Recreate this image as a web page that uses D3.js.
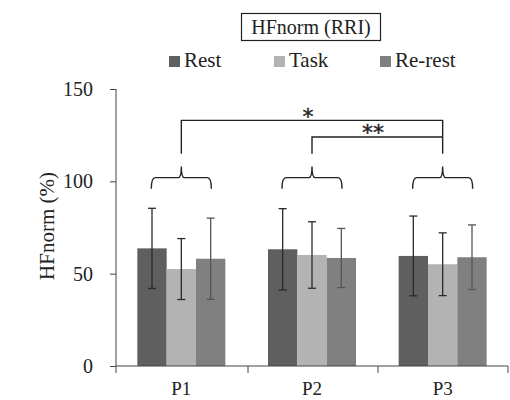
<!DOCTYPE html>
<html>
<head>
<meta charset="utf-8">
<script src="https://cdn.jsdelivr.net/npm/d3@7"></script>
<style>
body { margin: 0; background: #fff; }
svg text { font-family: "Liberation Serif", "Times New Roman", serif; fill: #222; }
svg text.star { font-family: "DejaVu Sans", sans-serif; stroke: #222; stroke-width: 0.4; }
</style>
</head>
<body>
<div class="chart"></div>
<script>
// data
var periods = ["P1", "P2", "P3"];
var seriesNames = ["Rest", "Task", "Re-rest"];
var restMean = [63.7, 63.2, 59.6];
var restSd = [21.7, 22.0, 21.6];
var taskMean = [52.5, 60.1, 55.1];
var taskSd = [16.5, 18.0, 17.0];
var rerestMean = [58.1, 58.5, 58.9];
var rerestSd = [22.0, 16.0, 17.5];
var yTicks = [0, 50, 100, 150];

var w = 510, h = 400;
var colors = ["#5f5f5f", "#b3b3b3", "#808080"];
var errColors = ["#2a2a2a", "#2a2a2a", "#555"];

var svg = d3.select(".chart").append("svg")
    .attr("width", w).attr("height", h);

var x = d3.scaleBand().domain(periods).range([116, 508]).paddingInner(0).paddingOuter(0);
var xs = d3.scaleBand().domain(seriesNames).range([0, 88]);
var y = d3.scaleLinear().domain([0, 150]).range([366, 89]);

var table = [];
periods.forEach(function(p, i){
    table.push({p: p, s: "Rest", m: restMean[i], sd: restSd[i], k: 0});
    table.push({p: p, s: "Task", m: taskMean[i], sd: taskSd[i], k: 1});
    table.push({p: p, s: "Re-rest", m: rerestMean[i], sd: rerestSd[i], k: 2});
});
var off = (x.bandwidth() - 88) / 2;

// bars
svg.selectAll("rect.bar").data(table).enter().append("rect")
    .attr("class", "bar")
    .attr("x", d => x(d.p) + off + xs(d.s))
    .attr("width", xs.bandwidth())
    .attr("y", d => y(d.m))
    .attr("height", d => y(0) - y(d.m))
    .attr("fill", d => colors[d.k]);

// error bars
var eb = svg.selectAll("g.err").data(table).enter().append("g")
    .attr("class", "err")
    .attr("stroke", d => errColors[d.k])
    .attr("stroke-width", 1.3);
eb.append("line")
    .attr("x1", d => x(d.p) + off + xs(d.s) + xs.bandwidth() / 2)
    .attr("x2", d => x(d.p) + off + xs(d.s) + xs.bandwidth() / 2)
    .attr("y1", d => y(d.m + d.sd)).attr("y2", d => y(d.m - d.sd));
[1, -1].forEach(function(sg){
    eb.append("line")
        .attr("x1", d => x(d.p) + off + xs(d.s) + xs.bandwidth() / 2 - 4)
        .attr("x2", d => x(d.p) + off + xs(d.s) + xs.bandwidth() / 2 + 4)
        .attr("y1", d => y(d.m + sg * d.sd)).attr("y2", d => y(d.m + sg * d.sd));
});

// axes
var yAxis = svg.append("g").attr("transform", "translate(116,0)")
    .call(d3.axisLeft(y).tickValues(yTicks).tickSize(6).tickPadding(17));
var xAxis = svg.append("g").attr("transform", "translate(0,366)")
    .call(d3.axisBottom(x).tickSize(0).tickPadding(16));
svg.append("g").selectAll("line").data([116, 248, 378, 508]).enter().append("line")
    .attr("x1", d => d).attr("x2", d => d)
    .attr("y1", 366).attr("y2", 373)
    .attr("stroke", "#444");
[yAxis, xAxis].forEach(function(a){
    a.attr("font-family", "Liberation Serif").attr("font-size", 20);
    a.select(".domain").attr("stroke", "#444");
    a.selectAll(".tick line").attr("stroke", "#444");
    a.selectAll("text").attr("fill", "#222");
});
yAxis.select(".domain").attr("d", "M0,89V366");
xAxis.select(".domain").attr("d", "M116,0H508");
xAxis.selectAll("text").attr("font-size", 19);

svg.append("text")
    .attr("transform", "translate(54,226) rotate(-90)")
    .attr("text-anchor", "middle")
    .attr("font-size", 21)
    .text("HFnorm (%)");

// braces over each group
var brace = svg.append("g").attr("fill", "none").attr("stroke", "#222").attr("stroke-width", 1.4);
periods.forEach(function(p){
    var c = x(p) + x.bandwidth() / 2;
    var l = c - 30, r = c + 30;
    var yb = y(102), yt = y(108), ye = y(96);
    brace.append("path").attr("d",
        "M" + l + "," + ye + " Q" + l + "," + yb + " " + (l + 4) + "," + yb +
        " L" + (c - 3) + "," + yb + " Q" + c + "," + yb + " " + c + "," + yt +
        " Q" + c + "," + yb + " " + (c + 3) + "," + yb +
        " L" + (r - 4) + "," + yb + " Q" + r + "," + yb + " " + r + "," + ye);
});

// significance brackets
var cx = p => x(p) + x.bandwidth() / 2;
brace.append("path").attr("d",
    "M" + cx("P1") + "," + y(115) + " V" + y(133) + " H" + cx("P3") + " V" + y(115));
brace.append("path").attr("d",
    "M" + cx("P2") + "," + y(115) + " V" + y(124) + " H" + cx("P3"));
svg.append("text").attr("class", "star").attr("x", 308).attr("y", 124)
    .attr("text-anchor", "middle").attr("font-size", 22).text("*");
svg.append("text").attr("class", "star").attr("x", 373).attr("y", 140)
    .attr("text-anchor", "middle").attr("font-size", 22).text("**");

// title
svg.append("text").attr("x", 311).attr("y", 34)
    .attr("text-anchor", "middle").attr("font-size", 20).text("HFnorm (RRI)");
svg.append("rect").attr("x", 241.5).attr("y", 13.5).attr("width", 139).attr("height", 27)
    .attr("fill", "none").attr("stroke", "#222").attr("stroke-width", 1.2);

// legend
var legX = [169, 274, 380];
var leg = svg.selectAll("g.leg").data(seriesNames).enter().append("g")
    .attr("class", "leg")
    .attr("transform", (d, i) => "translate(" + legX[i] + ",0)");
leg.append("rect").attr("x", 0).attr("y", 56).attr("width", 11).attr("height", 11)
    .attr("fill", (d, i) => colors[i]);
leg.append("text").attr("x", 15).attr("y", 67).attr("font-size", 21).text(d => d);
</script>
</body>
</html>
